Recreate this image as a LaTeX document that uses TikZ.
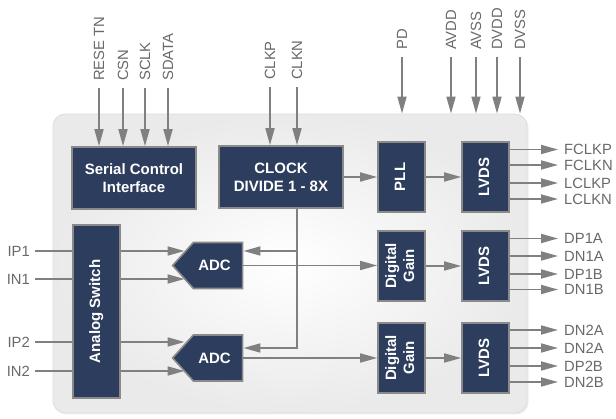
\documentclass[tikz,border=0pt]{standalone}
\usepackage{fontspec}
\setmainfont{Liberation Sans}
\setsansfont{Liberation Sans}
\usepackage{graphicx}
\usetikzlibrary{arrows.meta,calc,shapes.symbols,shadows}
\definecolor{blocknavy}{RGB}{45,61,94}
\definecolor{edgegray}{RGB}{138,138,138}
\definecolor{wiregray}{RGB}{128,128,128}
\definecolor{pingray}{RGB}{105,105,105}
\definecolor{panelgray}{RGB}{234,234,234}
\definecolor{paneledge}{RGB}{222,222,222}
\newcommand{\vlabel}[1]{\rotatebox{90}{\begin{tabular}{@{}c@{}}#1\end{tabular}}}
\tikzset{
  panelbox/.style={draw=paneledge,line width=0.8pt,rounded corners=12pt,
    shading=radial,inner color=white,outer color=panelgray,
    drop shadow={shadow xshift=1.5pt,shadow yshift=-1.5pt,opacity=0.15}},
  blockbox/.style={draw=edgegray,fill=blocknavy,line width=1.6pt,text=white,
    inner sep=0pt,align=center,font=\fontsize{15}{18}\selectfont\bfseries},
  adcbox/.style={blockbox,signal,signal to=west,signal pointer angle=96,
    minimum width=70pt,minimum height=46pt},
  wire/.style={draw=wiregray,line width=1.7pt},
  wirearrow/.style={wire,-{Triangle[length=17pt,width=9pt]}},
  pinlabel/.style={text=pingray,font=\fontsize{14.8}{16}\selectfont,inner sep=0pt},
  toppin/.style={pinlabel,rotate=90,anchor=west,inner xsep=7pt},
  rightpin/.style={pinlabel,anchor=west,inner xsep=6pt},
  leftpin/.style={pinlabel,anchor=east,inner xsep=5pt},
}
\begin{document}
\begin{tikzpicture}[x=1pt,y=-1pt]
  \useasboundingbox (0,0) rectangle (616,419);
  \node[panelbox,minimum width=474pt,minimum height=299pt] (chip) at (290,263.5) {};

  \node[blockbox,minimum width=124pt,minimum height=62pt] (sci) at (134,178)
    {Serial Control\\Interface};
  \node[blockbox,minimum width=124pt,minimum height=62pt] (clkdiv) at (281,177)
    {CLOCK\\DIVIDE 1 - 8X};
  \node[blockbox,minimum width=47pt,minimum height=70pt] (pll) at (401.5,177) {\vlabel{PLL}};
  \node[blockbox,minimum width=47pt,minimum height=70pt] (lvdsclk) at (485.5,177) {\vlabel{LVDS}};
  \node[blockbox,minimum width=47pt,minimum height=70pt] (gain1) at (401.5,266) {\vlabel{Digital\\Gain}};
  \node[blockbox,minimum width=47pt,minimum height=70pt] (lvds1) at (485.5,266) {\vlabel{LVDS}};
  \node[blockbox,minimum width=47pt,minimum height=70pt] (gain2) at (401.5,358) {\vlabel{Digital\\Gain}};
  \node[blockbox,minimum width=47pt,minimum height=70pt] (lvds2) at (485.5,358) {\vlabel{LVDS}};
  \node[blockbox,minimum width=47pt,minimum height=173pt] (aswitch) at (96.5,311.5)
    {\vlabel{Analog Switch}};
  \node[adcbox] (adc1) at (218,265.5) {ADC\hspace*{7pt}};
  \node[adcbox] (adc2) at (218,358) {ADC\hspace*{7pt}};

  \node[toppin] (rstn) at (99,88) {RESE TN};
  \node[toppin] (csn) at (123,88) {CSN};
  \node[toppin] (sclk) at (145,88) {SCLK};
  \node[toppin] (sdata) at (168,88) {SDATA};
  \node[toppin] (clkp) at (270,87) {CLKP};
  \node[toppin] (clkn) at (297,87) {CLKN};
  \node[toppin] (pd) at (402,57) {PD};
  \node[toppin] (avdd) at (451,57) {AVDD};
  \node[toppin] (avss) at (476,57) {AVSS};
  \node[toppin] (dvdd) at (497,57) {DVDD};
  \node[toppin] (dvss) at (520,57) {DVSS};
  \draw[wirearrow] (rstn) -- (rstn |- sci.north);
  \draw[wirearrow] (csn) -- (csn |- sci.north);
  \draw[wirearrow] (sclk) -- (sclk |- sci.north);
  \draw[wirearrow] (sdata) -- (sdata |- sci.north);
  \draw[wirearrow] (clkp) -- (clkp |- clkdiv.north);
  \draw[wirearrow] (clkn) -- (clkn |- clkdiv.north);
  \draw[wirearrow] (pd) -- (pd |- chip.north);
  \draw[wirearrow] (avdd) -- (avdd |- chip.north);
  \draw[wirearrow] (avss) -- (avss |- chip.north);
  \draw[wirearrow] (dvdd) -- (dvdd |- chip.north);
  \draw[wirearrow] (dvss) -- (dvss |- chip.north);

  \node[leftpin] (ip1) at (35,251) {IP1};
  \node[leftpin] (in1) at (35,279) {IN1};
  \node[leftpin] (ip2) at (35,342) {IP2};
  \node[leftpin] (in2) at (35,371) {IN2};
  \coordinate (adc1in) at ($(adc1.west)+(13,0)$);
  \coordinate (adc2in) at ($(adc2.west)+(13,0)$);
  \draw[wire] (ip1) -- (ip1 -| aswitch.west);
  \draw[wire] (in1) -- (in1 -| aswitch.west);
  \draw[wire] (ip2) -- (ip2 -| aswitch.west);
  \draw[wire] (in2) -- (in2 -| aswitch.west);
  \draw[wirearrow] (aswitch.east |- ip1) -- (ip1 -| adc1in);
  \draw[wirearrow] (aswitch.east |- in1) -- (in1 -| adc1in);
  \draw[wirearrow] (aswitch.east |- ip2) -- (ip2 -| adc2in);
  \draw[wirearrow] (aswitch.east |- in2) -- (in2 -| adc2in);

  \coordinate (ck1) at ($(adc1.east)+(0,-14.5)$);
  \coordinate (ck2) at ($(adc2.east)+(0,-10)$);
  \draw[wirearrow] (clkdiv.south -| clkn) |- (ck2);
  \draw[wirearrow] (clkn |- ck1) -- (ck1);

  \draw[wirearrow] (clkdiv) -- (pll);
  \draw[wirearrow] (pll) -- (lvdsclk);
  \draw[wirearrow] (adc1.east) -- (adc1.east -| gain1.west);
  \draw[wirearrow] (adc2.east) -- (adc2.east -| gain2.west);
  \draw[wirearrow] (gain1) -- (lvds1);
  \draw[wirearrow] (gain2) -- (lvds2);

  \node[rightpin] (fclkp) at (558,149.5) {FCLKP};
  \node[rightpin] (fclkn) at (558,165) {FCLKN};
  \node[rightpin] (lclkp) at (558,183) {LCLKP};
  \node[rightpin] (lclkn) at (558,199) {LCLKN};
  \node[rightpin] (dp1a) at (558,238.5) {DP1A};
  \node[rightpin] (dn1a) at (558,256) {DN1A};
  \node[rightpin] (dp1b) at (558,274) {DP1B};
  \node[rightpin] (dn1b) at (558,289.5) {DN1B};
  \node[rightpin] (dn2a) at (558,330) {DN2A};
  \node[rightpin] (dn2ab) at (558,348) {DN2A};
  \node[rightpin] (dp2b) at (558,366) {DP2B};
  \node[rightpin] (dn2b) at (558,382) {DN2B};
  \draw[wirearrow] (lvdsclk.east |- fclkp) -- (fclkp);
  \draw[wirearrow] (lvdsclk.east |- fclkn) -- (fclkn);
  \draw[wirearrow] (lvdsclk.east |- lclkp) -- (lclkp);
  \draw[wirearrow] (lvdsclk.east |- lclkn) -- (lclkn);
  \draw[wirearrow] (lvds1.east |- dp1a) -- (dp1a);
  \draw[wirearrow] (lvds1.east |- dn1a) -- (dn1a);
  \draw[wirearrow] (lvds1.east |- dp1b) -- (dp1b);
  \draw[wirearrow] (lvds1.east |- dn1b) -- (dn1b);
  \draw[wirearrow] (lvds2.east |- dn2a) -- (dn2a);
  \draw[wirearrow] (lvds2.east |- dn2ab) -- (dn2ab);
  \draw[wirearrow] (lvds2.east |- dp2b) -- (dp2b);
  \draw[wirearrow] (lvds2.east |- dn2b) -- (dn2b);
\end{tikzpicture}
\end{document}
